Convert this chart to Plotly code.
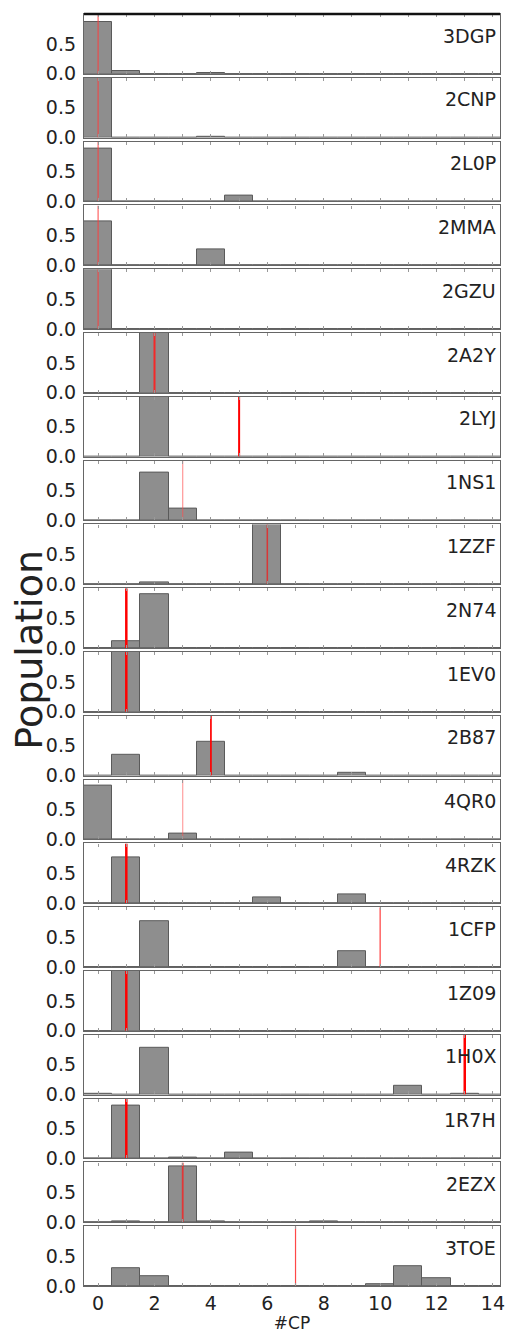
import plotly.graph_objects as go
from plotly.subplots import make_subplots

# ---- data ----
labels = ["3DGP", "2CNP", "2L0P", "2MMA", "2GZU", "2A2Y", "2LYJ", "1NS1", "1ZZF", "2N74",
          "1EV0", "2B87", "4QR0", "4RZK", "1CFP", "1Z09", "1H0X", "1R7H", "2EZX", "3TOE"]
cp_values = list(range(15))  # #CP categories 0..14
populations = [
    [0.87, 0.05, 0, 0, 0.02, 0, 0, 0, 0, 0, 0, 0, 0, 0, 0],      # 3DGP
    [1.00, 0, 0, 0, 0.02, 0, 0, 0, 0, 0, 0, 0, 0, 0, 0],         # 2CNP
    [0.88, 0, 0, 0, 0, 0.10, 0, 0, 0, 0, 0, 0, 0, 0, 0],         # 2L0P
    [0.73, 0, 0, 0, 0.26, 0, 0, 0, 0, 0, 0, 0, 0, 0, 0],         # 2MMA
    [1.00, 0, 0, 0, 0, 0, 0, 0, 0, 0, 0, 0, 0, 0, 0],            # 2GZU
    [0, 0, 1.00, 0, 0, 0, 0, 0, 0, 0, 0, 0, 0, 0, 0],            # 2A2Y
    [0, 0, 1.00, 0, 0, 0, 0, 0, 0, 0, 0, 0, 0, 0, 0],            # 2LYJ
    [0, 0, 0.80, 0.20, 0, 0, 0, 0, 0, 0, 0, 0, 0, 0, 0],         # 1NS1
    [0, 0, 0.03, 0, 0, 0, 1.00, 0, 0, 0, 0, 0, 0, 0, 0],         # 1ZZF
    [0, 0.12, 0.90, 0, 0, 0, 0, 0, 0, 0, 0, 0, 0, 0, 0],         # 2N74
    [0, 1.00, 0, 0, 0, 0, 0, 0, 0, 0, 0, 0, 0, 0, 0],            # 1EV0
    [0, 0.35, 0, 0, 0.57, 0, 0, 0, 0, 0.05, 0, 0, 0, 0, 0],      # 2B87
    [0.90, 0, 0, 0.10, 0, 0, 0, 0, 0, 0, 0, 0, 0, 0, 0],         # 4QR0
    [0, 0.77, 0, 0, 0, 0, 0.10, 0, 0, 0.14, 0, 0, 0, 0, 0],      # 4RZK
    [0, 0, 0.76, 0, 0, 0, 0, 0, 0, 0.26, 0, 0, 0, 0, 0],         # 1CFP
    [0, 1.00, 0, 0, 0, 0, 0, 0, 0, 0, 0, 0, 0, 0, 0],            # 1Z09
    [0.01, 0, 0.79, 0, 0, 0, 0, 0, 0, 0, 0, 0.14, 0, 0.02, 0],   # 1H0X
    [0, 0.89, 0, 0.01, 0, 0.10, 0, 0, 0, 0, 0, 0, 0, 0, 0],      # 1R7H
    [0, 0.02, 0, 0.93, 0.02, 0, 0, 0, 0.02, 0, 0, 0, 0, 0, 0],   # 2EZX
    [0, 0.30, 0.17, 0, 0, 0, 0, 0, 0, 0, 0.03, 0.33, 0.13, 0, 0], # 3TOE
]
reference_cp = [0, 0, 0, 0, 0, 2, 5, 3, 6, 1, 1, 4, 3, 1, 10, 1, 13, 1, 3, 7]
x_ticks = [0, 2, 4, 6, 8, 10, 12, 14]
y_ticks = [0.0, 0.5]
y_ticktext = ["0.0", "0.5"]

# ---- styles (not data) ----
line_widths = [1.2, 1.2, 1.2, 1.2, 1.2, 2, 2, 1.2, 1.5, 2.5, 2.5, 1.8, 1.2, 2.5, 1.2, 2.5, 2.5, 2.5, 1.8, 1.2]
line_colors = ["rgba(255,60,60,0.8)"] * 5 + ["rgba(255,30,30,0.9)", "rgba(255,0,0,1)",
               "rgba(255,80,80,0.6)", "rgba(230,40,40,0.85)", "rgba(255,0,0,1)", "rgba(255,0,0,1)",
               "rgba(255,0,0,0.95)", "rgba(255,80,80,0.55)", "rgba(255,0,0,1)", "rgba(255,40,40,0.9)",
               "rgba(255,0,0,1)", "rgba(255,0,0,1)", "rgba(255,0,0,1)", "rgba(240,40,40,0.85)",
               "rgba(255,40,40,0.85)"]

W, H = 505, 1336
ML, MR, MT, MB = 84, 0, 14, 50
n = len(labels)
gap_px = 4
plot_h = H - MT - MB

fig = make_subplots(rows=n, cols=1, shared_xaxes=True, vertical_spacing=gap_px / plot_h)

font_main = "DejaVu Sans, Liberation Sans, Arial, sans-serif"

for i, lab in enumerate(labels):
    r = i + 1
    fig.add_trace(go.Bar(x=cp_values, y=populations[i], width=1.0,
                         marker=dict(color="#8e8e8e", line=dict(color="#5a5a5a", width=1)),
                         showlegend=False, hoverinfo="x+y"), row=r, col=1)
    fig.add_trace(go.Scatter(x=[reference_cp[i], reference_cp[i]], y=[0, 1.0], mode="lines",
                             line=dict(color=line_colors[i], width=line_widths[i]),
                             showlegend=False, hoverinfo="skip"), row=r, col=1)
    fig.update_yaxes(range=[0, 1.0], tickvals=y_ticks, ticktext=y_ticktext, showgrid=False,
                     zeroline=False, showline=True, mirror=True, linecolor="#666666", linewidth=1.3,
                     ticks="", ticklabelstandoff=3,
                     tickfont=dict(family=font_main, size=19, color="#222"), row=r, col=1)
    fig.update_xaxes(range=[-0.5, 14.25], showgrid=False, zeroline=False,
                     showline=True, mirror="ticks", linecolor="#666666", linewidth=1.3,
                     ticks="inside", ticklen=3, tickcolor="#999999",
                     minor=dict(dtick=1, tick0=0, ticks="inside", ticklen=3, tickcolor="#999999"),
                     tickvals=x_ticks, ticktext=[str(v) for v in x_ticks],
                     ticklabeloverflow="allow",
                     showticklabels=(r == n), row=r, col=1)
    # label annotation
    yax = fig.layout["yaxis" + ("" if r == 1 else str(r))]
    d0, d1 = yax.domain
    fig.add_annotation(x=1.0, xref="paper", y=d0 + 0.64 * (d1 - d0), yref="paper",
                       text=lab, showarrow=False, xanchor="right", yanchor="middle", xshift=-2,
                       font=dict(family=font_main, size=19, color="#222"))

fig.update_xaxes(tickfont=dict(family=font_main, size=19, color="#222"),
                 title=dict(text="#CP", font=dict(family=font_main, size=17, color="#222"), standoff=4),
                 row=n, col=1)

fig.add_annotation(x=-0.133, xref="paper", y=0.5, yref="paper", text="Population",
                   textangle=-90, showarrow=False, xanchor="center", yanchor="middle",
                   font=dict(family=font_main, size=38, color="#222"))

# thick top border on first panel
fig.add_shape(type="line", xref="paper", yref="paper", x0=0, x1=1, y0=1, y1=1,
              line=dict(color="#111111", width=2.5))

fig.update_layout(width=W, height=H, margin=dict(l=ML, r=MR, t=MT, b=MB),
                  plot_bgcolor="white", paper_bgcolor="white", bargap=0, barmode="overlay")

fig.write_html("out.html", config={"displayModeBar": False},
               post_script="document.body.style.margin='0';document.body.style.overflow='hidden';")
